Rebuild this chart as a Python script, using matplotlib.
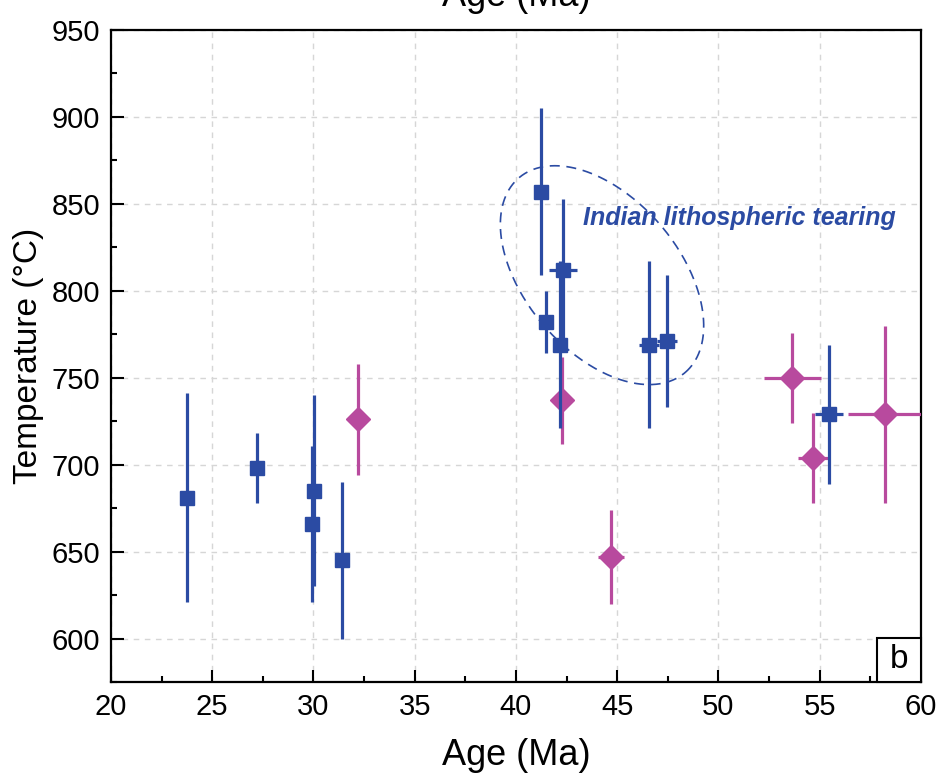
import numpy as np
import matplotlib.pyplot as plt
from matplotlib.ticker import MultipleLocator
from matplotlib.patches import Rectangle

plt.rcParams['font.family'] = ['Liberation Sans', 'DejaVu Sans']

# blue squares
blue_age = [23.75, 27.2, 30.02, 29.94, 31.4, 41.22, 41.48, 42.33, 42.17, 46.58, 47.47, 55.46]
blue_temp = [681, 698, 685, 666, 645, 857, 782, 812, 769, 769, 771, 729]
blue_temp_err = [60, 20, 55, 45, 45, 48, 18, 41, 48, 48, 38, 40]
blue_age_err = [0, 0, 0.3, 0, 0, 0, 0, 0.7, 0.2, 0.5, 0.5, 0.67]

# pink diamonds
pink_age = [32.18, 42.25, 44.7, 53.64, 54.68, 58.22]
pink_temp = [726, 737, 647, 750, 704, 729]
pink_temp_err = [32, 25, 27, 26, 26, 51]
pink_age_err = [0, 0.2, 0.65, 1.4, 0.75, 1.8]

blue = '#2b4ba3'
pink = '#b84a9e'

fig = plt.figure(figsize=(9.47, 7.82), dpi=100)
ax = fig.add_axes([0.1172, 0.1279, 0.8553, 0.8337])

xmin, xmax, ymin, ymax = 20, 60, 575, 950

ax.errorbar(pink_age, pink_temp, yerr=pink_temp_err, xerr=pink_age_err,
            fmt='D', color=pink, ms=12, elinewidth=2.3, capsize=0, zorder=3)
ax.errorbar(blue_age, blue_temp, yerr=blue_temp_err, xerr=blue_age_err,
            fmt='s', color=blue, ms=10, elinewidth=2.3, capsize=0, zorder=4)

ax.set_xlim(xmin, xmax)
ax.set_ylim(ymin, ymax)

# dashed ellipse around the tearing group (sized in pixels, mapped to data)
sx = 810 / (xmax - xmin)
sy = 652 / (ymax - ymin)
cx, cy = 44.25, 809
a, b, phi = 128, 77, np.deg2rad(-49.5)
t = np.linspace(0, 2 * np.pi, 300)
ex = cx + (a * np.cos(t) * np.cos(phi) - b * np.sin(t) * np.sin(phi)) / sx
ey = cy + (a * np.cos(t) * np.sin(phi) + b * np.sin(t) * np.cos(phi)) / sy
ax.plot(ex, ey, color=blue, lw=1.2, ls=(0, (6, 4)), zorder=2)

ax.text(43.3, 842, 'Indian lithospheric tearing', color=blue, fontsize=18,
        fontweight='bold', fontstyle='italic', va='center', ha='left')

ax.xaxis.set_major_locator(MultipleLocator(5))
ax.xaxis.set_minor_locator(MultipleLocator(2.5))
ax.yaxis.set_major_locator(MultipleLocator(50))
ax.yaxis.set_minor_locator(MultipleLocator(25))
ax.tick_params(which='major', direction='in', length=9, width=1.5, labelsize=21, pad=8)
ax.tick_params(which='minor', direction='in', length=4.5, width=1.5)
ax.tick_params(top=False, right=False, which='both')
for s in ax.spines.values():
    s.set_linewidth(1.6)

ax.grid(True, which='major', color='#d6d6d6', ls=(0, (4, 4)), lw=1)
ax.set_axisbelow(True)

ax.set_xlabel('Age (Ma)', fontsize=26, labelpad=12)
ax.set_ylabel('Temperature (°C)', fontsize=24, labelpad=5)

# top label, partly cut by the figure edge (as in the source figure)
fig.text(0.545, 1 - 14 / 782, 'Age (Ma)', fontsize=26, ha='center', va='bottom')

# panel letter box
bw, bh = 44 / 810, 44 / 652
ax.add_patch(Rectangle((1 - bw, 0), bw, bh, transform=ax.transAxes, fc='white',
                       ec='black', lw=1.5, zorder=5, clip_on=False))
ax.text(1 - bw / 2, bh / 2, 'b', transform=ax.transAxes, fontsize=24,
        ha='center', va='center', zorder=6)

fig.savefig('out.png', dpi=100)
